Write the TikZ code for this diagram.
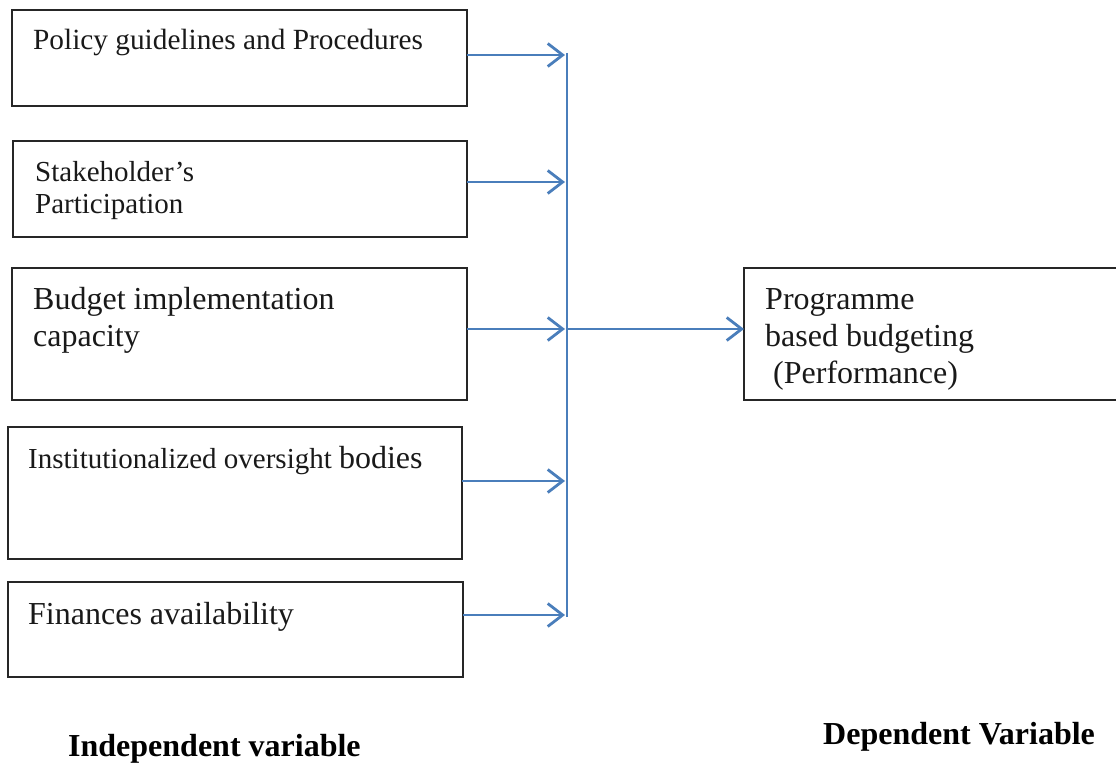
\documentclass[tikz,border=0pt]{standalone}
\usepackage{fontspec}
\setmainfont{Liberation Serif}
\usetikzlibrary{arrows.meta}
\definecolor{linkblue}{HTML}{4A7EBB}
\tikzset{
  varbox/.style={draw=black!85, line width=1.3pt, minimum width=#1, inner sep=0pt, outer sep=0pt},
  lbl/.style={anchor=base west, inner sep=0pt, font=\fontsize{32}{37}\selectfont, text=black!90},
  smalllbl/.style={anchor=base west, inner sep=0pt, font=\fontsize{29}{32}\selectfont, text=black!90},
  headlbl/.style={anchor=base west, inner sep=0pt, font=\fontsize{32}{36}\selectfont\bfseries},
  link/.style={draw=linkblue, line width=2.8pt, -{Straight Barb[length=15pt,width=23pt,line width=2.8pt]}},
  bar/.style={draw=linkblue, line width=2.2pt}
}
\begin{document}
\begin{tikzpicture}[x=1pt,y=-1pt]
\useasboundingbox (0,0) rectangle (1116,765);
% boxes
\node[varbox=455pt, minimum height=96pt, anchor=north west] (b1) at (12,10) {};
\node[varbox=454pt, minimum height=96pt, anchor=north west] (b2) at (13,141) {};
\node[varbox=455pt, minimum height=132pt, anchor=north west] (b3) at (12,268) {};
\node[varbox=454pt, minimum height=132pt, anchor=north west] (b4) at (8,427) {};
\node[varbox=455pt, minimum height=95pt, anchor=north west] (b5) at (8,582) {};
\node[varbox=376pt, minimum height=132pt, anchor=north west] (dv) at (744,268) {};
% texts
\node[smalllbl, font=\fontsize{29.3}{32}\selectfont] (t1) at (33,50) {Policy guidelines and Procedures};
\node[smalllbl] (t2a) at (35,181) {Stakeholder’s};
\node[smalllbl] (t2b) at (35,213) {Participation};
\node[lbl] (t3a) at (33,309) {Budget implementation};
\node[lbl] (t3b) at (33,346) {capacity};
\node[anchor=base west, inner sep=0pt, text=black!90] (t4) at (28,468) {\fontsize{29}{32}\selectfont Institutionalized oversight \fontsize{32}{37}\selectfont bodies};
\node[lbl] (t5) at (28,624) {Finances availability};
\node[lbl] (t6a) at (765,309) {Programme};
\node[lbl] (t6b) at (765,346) {based budgeting};
\node[lbl] (t6c) at (765,383) {\ (Performance)};
\node[headlbl] (h1) at (68,756) {Independent variable};
\node[headlbl] (h2) at (823,744) {Dependent Variable};
% junctions on the vertical bar
\coordinate (top) at (567,53);
\coordinate (bot) at (567,617);
\coordinate (j1) at (565,55);
\coordinate (j2) at (565,182);
\coordinate (j3) at (565,329);
\coordinate (j4) at (565,481);
\coordinate (j5) at (565,615);
\coordinate (jm) at (567,329);
\draw[bar] (top) -- (bot);
\draw[link] (b1.east |- j1) -- (j1);
\draw[link] (b2.east |- j2) -- (j2);
\draw[link] (b3.east |- j3) -- (j3);
\draw[link] (b4.east |- j4) -- (j4);
\draw[link] (b5.east |- j5) -- (j5);
\draw[link] (jm) -- (dv.west |- jm);
\end{tikzpicture}
\end{document}
